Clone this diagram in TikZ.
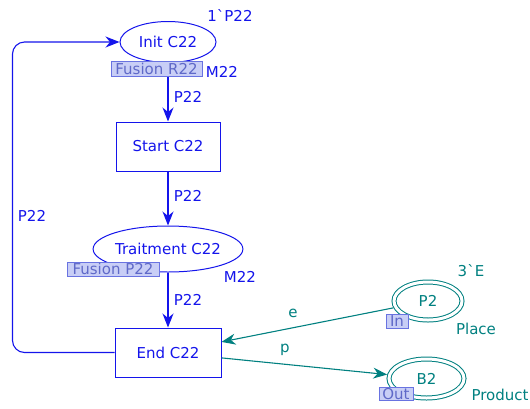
\documentclass[tikz,border=0pt]{standalone}
\usepackage{fontspec}
\newfontfamily\cpnfont{DejaVu Sans}
\usetikzlibrary{arrows.meta,shapes.geometric}
\definecolor{cpnblue}{RGB}{20,20,235}
\definecolor{cpnteal}{RGB}{0,128,128}
\definecolor{fusfill}{RGB}{200,206,246}
\definecolor{fusdraw}{RGB}{105,115,225}
\definecolor{fustext}{RGB}{95,105,200}
\begin{document}
\begin{tikzpicture}[x=1pt,y=-1pt,
  font=\cpnfont\fontsize{15}{17}\selectfont,
  place/.style={ellipse, draw=cpnblue, text=cpnblue, line width=1pt, inner sep=0pt},
  trans/.style={rectangle, draw=cpnblue, text=cpnblue, line width=1pt, inner sep=0pt},
  port/.style={ellipse, draw=cpnteal, text=cpnteal, line width=1pt, double=white, double distance=3pt, inner sep=0pt, outer sep=2.5pt},
  fusion/.style={rectangle, draw=fusdraw, fill=fusfill, text=fustext, line width=1pt, inner sep=0pt},
  blbl/.style={text=cpnblue, inner sep=0pt},
  tlbl/.style={text=cpnteal, inner sep=0pt},
  barc/.style={draw=cpnblue, line width=1.1pt, -{Stealth[length=14pt,width=11pt,inset=4.5pt]}},
  tarc/.style={draw=cpnteal, line width=1.1pt, -{Stealth[length=14pt,width=11pt,inset=4.5pt]}}
]
\useasboundingbox (0,0) rectangle (530,408);

% places and transitions
\node[place, minimum width=96, minimum height=41] (init) at (168,42) {Init C22};
\node[trans, minimum width=104, minimum height=49] (start) at (168,146.5) {Start C22};
\node[place, minimum width=147, minimum height=46] (trait) at (168,249) {Traitment C22};
\node[trans, minimum width=106, minimum height=49] (end) at (168,352.5) {End C22};
\node[port, minimum width=68, minimum height=38] (p2) at (428,301) {P2};
\node[port, minimum width=75, minimum height=39] (b2) at (426.5,378.5) {B2};

% arcs
\draw[barc] (init) -- (start);
\draw[barc] (start) -- (trait);
\draw[barc] (trait) -- (end);
\draw[barc, rounded corners=12pt] (end.west) -- ++(-102,0) |- (init.west);
\draw[tarc] (p2) -- (end);
\draw[tarc] (end) -- (b2);

% fusion / port tags
\node[fusion, minimum width=91, minimum height=15] (fr) at (156.5,68.5) {Fusion R22};
\node[fusion, minimum width=92, minimum height=14] (fp) at (113,269) {Fusion P22};
\node[fusion, minimum width=22, minimum height=14] (inport) at (397,321) {In};
\node[fusion, minimum width=34, minimum height=13] (outport) at (396,394) {Out};

% inscriptions
\node[blbl] (im1) at (230,15) {1`P22};
\node[blbl] (im2) at (222,72) {M22};
\node[blbl] (a1) at (188,97) {P22};
\node[blbl] (a2) at (188,196) {P22};
\node[blbl] (im3) at (240,277) {M22};
\node[blbl] (a3) at (188,300) {P22};
\node[blbl] (a4) at (32,216) {P22};
\node[tlbl] (im4) at (471,271) {3`E};
\node[tlbl] (ty1) at (476,329) {Place};
\node[tlbl] (ty2) at (500,395) {Product};
\node[tlbl] (ae) at (293,313) {e};
\node[tlbl] (ap) at (285,350) {p};
\end{tikzpicture}
\end{document}
